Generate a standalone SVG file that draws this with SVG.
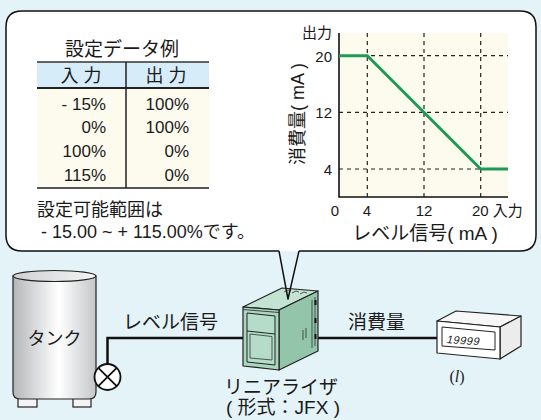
<svg xmlns="http://www.w3.org/2000/svg" width="541" height="420" viewBox="0 0 541 420">
  <defs>
    <linearGradient id="tankBody" x1="0" y1="0" x2="1" y2="0">
      <stop offset="0" stop-color="#b4b6b8"/>
      <stop offset="0.55" stop-color="#ffffff"/>
      <stop offset="1" stop-color="#c4c6c8"/>
    </linearGradient>
    <linearGradient id="tankTop" x1="0" y1="0" x2="1" y2="0">
      <stop offset="0" stop-color="#cfd1d3"/>
      <stop offset="1" stop-color="#f4f4f4"/>
    </linearGradient>
  </defs>
  <style>
    text { font-family: "Liberation Sans", "Noto Sans CJK JP", sans-serif; fill: #1a1a1a; }
    .t15 { font-size: 15px; }
    .t17 { font-size: 17px; }
    .t18 { font-size: 18px; }
    .t19 { font-size: 19px; }
    .mid { text-anchor: middle; }
    .end { text-anchor: end; }
    .grid { stroke: #222; stroke-width: 1.2; stroke-dasharray: 4 4; fill: none; }
    .wire { stroke: #111; stroke-width: 2.5; fill: none; }
    .edge { stroke: #222; stroke-width: 1.2; stroke-linejoin: round; }
  </style>

  <!-- backdrop -->
  <rect x="0" y="0" width="541" height="420" fill="#e3f3f8"/>

  <!-- callout balloon -->
  <g id="callout">
    <path d="M22,11 H520 Q536,11 536,27 V235 Q536,251 520,251 H22 Q6,251 6,235 V27 Q6,11 22,11 Z" fill="#ffffff"/>
    <path d="M279,251 H22 Q6,251 6,235 V27 Q6,11 22,11 H520 Q536,11 536,27 V235 Q536,251 520,251 H299" fill="none" stroke="#111" stroke-width="1.5" stroke-linejoin="round"/>
  </g>

  <!-- setting example table -->
  <g id="table">
    <text class="t19 mid" x="122" y="56">設定データ例</text>
    <rect x="37" y="62" width="172" height="26" fill="#d6ecf8"/>
    <rect x="37" y="88" width="172" height="100" fill="#fdfbee"/>
    <line x1="37" y1="62" x2="209" y2="62" stroke="#333" stroke-width="1.5"/>
    <line x1="37" y1="88" x2="209" y2="88" stroke="#222" stroke-width="2"/>
    <line x1="37" y1="188" x2="209" y2="188" stroke="#555" stroke-width="2"/>
    <line x1="126" y1="62" x2="126" y2="188" stroke="#222" stroke-width="1.5"/>
    <text class="t18 mid" x="81" y="82">入 力</text>
    <text class="t18 mid" x="166" y="82">出 力</text>
    <text class="t17 end" x="106" y="110">- 15%</text>
    <text class="t17 end" x="106" y="133">0%</text>
    <text class="t17 end" x="106" y="157">100%</text>
    <text class="t17 end" x="106" y="181">115%</text>
    <text class="t17 end" x="189" y="110">100%</text>
    <text class="t17 end" x="189" y="133">100%</text>
    <text class="t17 end" x="189" y="157">0%</text>
    <text class="t17 end" x="189" y="181">0%</text>
    <text class="t18" x="37" y="216">設定可能範囲は</text>
    <text class="t18" x="41" y="238">- 15.00 ~ + 115.00%です。</text>
  </g>

  <!-- output vs input chart -->
  <g id="chart">
    <rect x="339" y="33" width="169" height="164" fill="#fdfbee"/>
    <line class="grid" x1="367.3" y1="33" x2="367.3" y2="197"/>
    <line class="grid" x1="424" y1="33" x2="424" y2="197"/>
    <line class="grid" x1="480.7" y1="33" x2="480.7" y2="197"/>
    <line class="grid" x1="339" y1="55.7" x2="508" y2="55.7"/>
    <line class="grid" x1="339" y1="112.3" x2="508" y2="112.3"/>
    <line class="grid" x1="339" y1="169" x2="508" y2="169"/>
    <polyline points="339,33 339,197 508,197" fill="none" stroke="#111" stroke-width="1.6"/>
    <polyline points="339,55.7 367.3,55.7 480.7,169 508,169" fill="none" stroke="#1f9a55" stroke-width="3"/>
    <text class="t15" x="302" y="38">出力</text>
    <text class="t15 end" x="332" y="62">20</text>
    <text class="t15 end" x="332" y="118">12</text>
    <text class="t15 end" x="332" y="175">4</text>
    <text class="t15 mid" x="335" y="216">0</text>
    <text class="t15 mid" x="367" y="216">4</text>
    <text class="t15 mid" x="424" y="216">12</text>
    <text class="t15" x="472" y="216">20 入力</text>
    <text class="t19 mid" x="425" y="240">レベル信号( mA )</text>
    <text class="t18 mid" transform="translate(298,114) rotate(-90)" y="6">消費量( mA )</text>
  </g>

  <!-- connecting wires -->
  <g id="connectors">
    <polyline class="wire" points="107.5,364 107.5,338 243,338"/>
    <line class="wire" x1="318" y1="338" x2="437" y2="338"/>
  </g>

  <!-- storage tank -->
  <g id="tank">
    <rect x="18" y="396" width="19" height="11" fill="#f4f4f4" stroke="#222" stroke-width="1.2"/>
    <rect x="73" y="396" width="18" height="11" fill="#f4f4f4" stroke="#222" stroke-width="1.2"/>
    <path d="M13,276 V392 Q13,399 20,399 H89 Q96,399 96,392 V276 Z" fill="url(#tankBody)" stroke="#222" stroke-width="1.2"/>
    <ellipse cx="54.5" cy="276" rx="41.5" ry="5.5" fill="url(#tankTop)" stroke="#222" stroke-width="1.2"/>
    <text class="t18 mid" x="54.5" y="345">タンク</text>
  </g>

  <!-- level sensor valve -->
  <g id="valve">
    <circle cx="107.5" cy="377" r="13" fill="#ffffff" stroke="#111" stroke-width="1.8"/>
    <path d="M98.3,367.8 L116.7,386.2 M116.7,367.8 L98.3,386.2" stroke="#111" stroke-width="1.8"/>
  </g>
  <text class="t19" x="123" y="329">レベル信号</text>

  <!-- linearizer unit -->
  <g id="linearizer">
    <polygon class="edge" points="243,307 282,288 318,291 279,310" fill="#c3e3d3"/>
    <polygon class="edge" points="279,310 318,291 318,351 279,370" fill="#93c5ab"/>
    <polygon class="edge" points="243,307 279,310 279,370 243,366" fill="#a9d6bf"/>
    <polygon points="247,313 275,316 275,365 247,362" fill="#b4dcc8" stroke="#222" stroke-width="1"/>
    <line x1="247" y1="331" x2="275" y2="334" stroke="#222" stroke-width="1"/>
    <polygon points="250,334 272,336.5 272,360 250,358" fill="none" stroke="#333" stroke-width="0.8"/>
    <line x1="243" y1="309.5" x2="279" y2="312.5" stroke="#222" stroke-width="0.8"/>
    <path d="M312,300 V348 M315,297 V346" stroke="#333" stroke-width="0.8" fill="none"/>
    <path d="M315.5,300 v5 M315.5,318 v5 M315.5,334 v5" stroke="#111" stroke-width="2"/>
    <path d="M303,330 v10 M306,328 v10" stroke="#333" stroke-width="0.8"/>
    <path d="M284,292 l4,-2 l3,1 M292,293 l4,-2 l3,1 M300,294 l4,-2 l3,1" stroke="#333" stroke-width="0.8" fill="none"/>
    <text class="t19 mid" x="281" y="394">リニアライザ</text>
    <text class="t19 mid" x="283" y="414">( 形式：JFX )</text>
  </g>

  <!-- balloon pointer drawn over the unit -->
  <path d="M279,251 L288,299 L299,251" fill="none" stroke="#111" stroke-width="1.5" stroke-linejoin="round"/>
  <text class="t19" x="348" y="329">消費量</text>

  <!-- panel meter -->
  <g id="meter">
    <polygon class="edge" points="437,321 456,311 521,316 500,327" fill="#f7f7f7"/>
    <polygon class="edge" points="500,327 521,316 521,346 500,359" fill="#ececec"/>
    <polygon class="edge" points="437,321 500,327 500,359 437,353" fill="#ffffff"/>
    <polygon points="442,327 495,332 495,350 442,346" fill="#ffffff" stroke="#222" stroke-width="1"/>
    <text x="0" y="0" transform="translate(446,343) rotate(4) skewX(-12)" style="font-size:11px; fill:#222; letter-spacing:0.5px">19999</text>
    <text x="457" y="382" class="mid" style="font-family:'Liberation Serif', serif; font-size:16px">(<tspan font-style="italic">l</tspan>)</text>
  </g>
</svg>
